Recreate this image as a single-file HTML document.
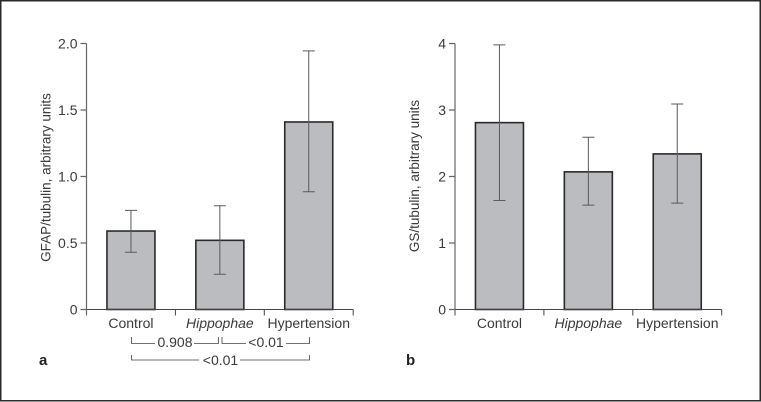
<!DOCTYPE html>
<html>
<head>
<meta charset="utf-8">
<style>
html,body{margin:0;padding:0;background:#fff;}
svg{display:block;}
text{font-family:"Liberation Sans",sans-serif;font-size:14px;fill:#3a3a3a;}
</style>
</head>
<body>
<svg id="fig" width="761" height="402" viewBox="0 0 761 402" xmlns="http://www.w3.org/2000/svg">
<rect x="0.75" y="0.75" width="759.5" height="400" fill="#fff" stroke="#2a2a2a" stroke-width="1.5"/>
<g fill="none" stroke="#444" stroke-width="0.8">
<path d="M131.5 337V343.5H155M194 343.5H218.5V337"/>
<path d="M222 337V343.5H246M286 343.5H309.5V337"/>
<path d="M131.5 355V360H199M240 360H309.5V355"/>
</g>
<text x="175" y="347" text-anchor="middle">0.908</text>
<text x="266" y="347" text-anchor="middle">&lt;0.01</text>
<text x="220.5" y="365" text-anchor="middle">&lt;0.01</text>
<text x="39" y="365" style="font-weight:bold;font-size:15px;fill:#222">a</text>
<text x="406" y="365" style="font-weight:bold;font-size:15px;fill:#222">b</text>
</svg>
<script>
var categories = ['Control', 'Hippophae', 'Hypertension'];
var gfapMeans = [0.59, 0.52, 1.41];
var gfapUpper = [0.745, 0.78, 1.945];
var gfapLower = [0.43, 0.265, 0.885];
var gfapTicks = ['0', '0.5', '1.0', '1.5', '2.0'];
var gsMeans = [2.81, 2.07, 2.34];
var gsUpper = [3.98, 2.59, 3.09];
var gsLower = [1.64, 1.57, 1.60];
var gsTicks = ['0', '1', '2', '3', '4'];

var svg = document.getElementById('fig');
var NS = 'http://www.w3.org/2000/svg';

function add(tag, attrs, parent, text) {
  var el = document.createElementNS(NS, tag);
  for (var k in attrs) el.setAttribute(k, attrs[k]);
  if (text !== undefined) el.textContent = text;
  (parent || svg).appendChild(el);
  return el;
}

function drawPanel(key, x0, title, titleY, means, upper, lower, ticks) {
  var y0 = 309.5, yTop = 43.5, step = 88.9, barW = 48;
  var yMax = parseFloat(ticks[ticks.length - 1]);
  function yScale(v) { return y0 - (v / yMax) * (y0 - yTop); }
  function xCenter(i) { return x0 + step * (i + 0.5); }

  var g = add('g', {});
  
  

  means.forEach(function (m, i) {
    var cx = xCenter(i);
    var bar = add('rect', {
      x: cx - barW / 2, y: yScale(m), width: barW, height: y0 - yScale(m),
      fill: '#bbbcbf', stroke: '#2b2b2b', 'stroke-width': 1.6
    }, g);
    
    
    var err = add('path', {
      d: 'M' + (cx - 6) + ' ' + yScale(upper[i]) + 'H' + (cx + 6) +
         'M' + cx + ' ' + yScale(upper[i]) + 'V' + yScale(lower[i]) +
         'M' + (cx - 6) + ' ' + yScale(lower[i]) + 'H' + (cx + 6),
      fill: 'none', stroke: '#5a5a5a', 'stroke-width': 1
    }, g);
    
    
    var lab = add('text', { x: cx, y: 328, 'text-anchor': 'middle' }, g, categories[i]);
    if (categories[i] === 'Hippophae') lab.setAttribute('font-style', 'italic');
    
    
  });

  var xd = 'M' + x0 + ' ' + y0 + 'H' + (x0 + step * categories.length);
  for (var i = 0; i <= categories.length; i++) {
    xd += 'M' + (x0 + step * i) + ' ' + y0 + 'v6';
  }
  var xAxis = add('path', { d: xd, fill: 'none', stroke: '#444', 'stroke-width': 1 }, g);
  
  

  var yd = 'M' + x0 + ' ' + yTop + 'V' + (y0 + 6);
  ticks.forEach(function (t) {
    var y = yScale(parseFloat(t));
    yd += 'M' + (x0 - 6) + ' ' + y + 'H' + x0;
    var tl = add('text', { x: x0 - 9, y: y + 5, 'text-anchor': 'end' }, g, t);
    
    
  });
  var yAxis = add('path', { d: yd, fill: 'none', stroke: '#666', 'stroke-width': 1.2 }, g);
  
  

  var tx = x0 - 36;
  var yt = add('text', {
    x: tx, y: titleY, 'text-anchor': 'middle', style: 'font-size:13.5px',
    transform: 'rotate(-90 ' + tx + ' ' + titleY + ')'
  }, g, title);
  
  
}

drawPanel('gfap', 86.5, 'GFAP/tubulin, arbitrary units', 177.5, gfapMeans, gfapUpper, gfapLower, gfapTicks);
drawPanel('gs', 455, 'GS/tubulin, arbitrary units', 176, gsMeans, gsUpper, gsLower, gsTicks);
</script>
</body>
</html>
